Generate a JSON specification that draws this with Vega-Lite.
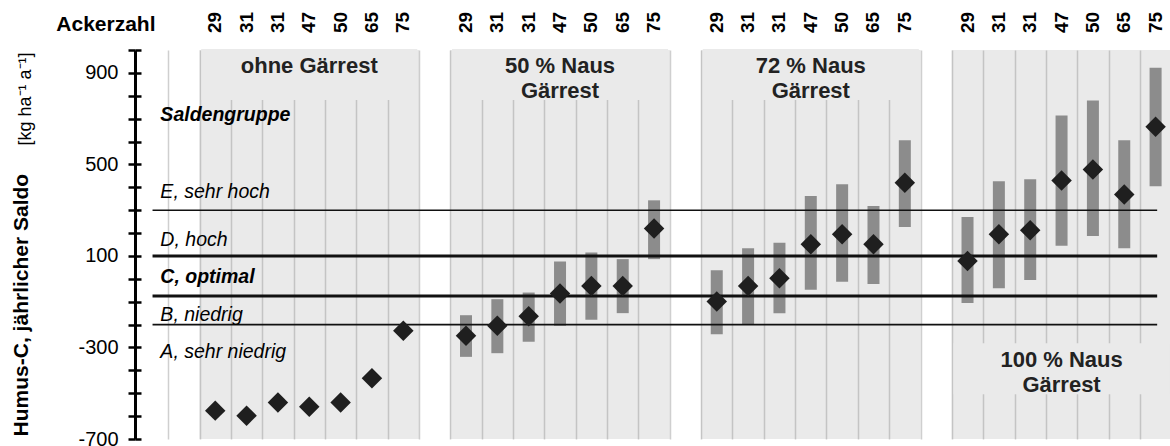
{
  "$schema": "https://vega.github.io/schema/vega-lite/v6.json",
  "width": 1035,
  "height": 389,
  "autosize": {"type": "none"},
  "padding": {"left": 135, "top": 50, "right": 0, "bottom": 7},
  "background": "white",
  "config": {"view": {"stroke": null}, "font": "Liberation Sans"},
  "datasets": {
    "samples": [
      {"group": "ohne Gärrest", "ackerzahl": 29, "idx": 0, "mean": -576, "lo": null, "hi": null},
      {"group": "ohne Gärrest", "ackerzahl": 31, "idx": 1, "mean": -598, "lo": null, "hi": null},
      {"group": "ohne Gärrest", "ackerzahl": 31, "idx": 2, "mean": -540, "lo": null, "hi": null},
      {"group": "ohne Gärrest", "ackerzahl": 47, "idx": 3, "mean": -559, "lo": null, "hi": null},
      {"group": "ohne Gärrest", "ackerzahl": 50, "idx": 4, "mean": -540, "lo": null, "hi": null},
      {"group": "ohne Gärrest", "ackerzahl": 65, "idx": 5, "mean": -434, "lo": null, "hi": null},
      {"group": "ohne Gärrest", "ackerzahl": 75, "idx": 6, "mean": -227, "lo": null, "hi": null},
      {"group": "50 % Naus Gärrest", "ackerzahl": 29, "idx": 8, "mean": -249, "lo": -341, "hi": -159},
      {"group": "50 % Naus Gärrest", "ackerzahl": 31, "idx": 9, "mean": -205, "lo": -325, "hi": -89},
      {"group": "50 % Naus Gärrest", "ackerzahl": 31, "idx": 10, "mean": -164, "lo": -275, "hi": -60},
      {"group": "50 % Naus Gärrest", "ackerzahl": 47, "idx": 11, "mean": -64, "lo": -205, "hi": 76},
      {"group": "50 % Naus Gärrest", "ackerzahl": 50, "idx": 12, "mean": -31, "lo": -179, "hi": 115},
      {"group": "50 % Naus Gärrest", "ackerzahl": 65, "idx": 13, "mean": -31, "lo": -150, "hi": 86},
      {"group": "50 % Naus Gärrest", "ackerzahl": 75, "idx": 14, "mean": 220, "lo": 86, "hi": 343},
      {"group": "72 % Naus Gärrest", "ackerzahl": 29, "idx": 16, "mean": -99, "lo": -242, "hi": 38},
      {"group": "72 % Naus Gärrest", "ackerzahl": 31, "idx": 17, "mean": -31, "lo": -198, "hi": 134},
      {"group": "72 % Naus Gärrest", "ackerzahl": 31, "idx": 18, "mean": 3, "lo": -150, "hi": 158},
      {"group": "72 % Naus Gärrest", "ackerzahl": 47, "idx": 19, "mean": 151, "lo": -48, "hi": 362},
      {"group": "72 % Naus Gärrest", "ackerzahl": 50, "idx": 20, "mean": 195, "lo": -13, "hi": 413},
      {"group": "72 % Naus Gärrest", "ackerzahl": 65, "idx": 21, "mean": 151, "lo": -23, "hi": 318},
      {"group": "72 % Naus Gärrest", "ackerzahl": 75, "idx": 22, "mean": 420, "lo": 227, "hi": 606},
      {"group": "100 % Naus Gärrest", "ackerzahl": 29, "idx": 24, "mean": 78, "lo": -106, "hi": 270},
      {"group": "100 % Naus Gärrest", "ackerzahl": 31, "idx": 25, "mean": 195, "lo": -41, "hi": 426},
      {"group": "100 % Naus Gärrest", "ackerzahl": 31, "idx": 26, "mean": 212, "lo": -5, "hi": 435},
      {"group": "100 % Naus Gärrest", "ackerzahl": 47, "idx": 27, "mean": 430, "lo": 144, "hi": 714},
      {"group": "100 % Naus Gärrest", "ackerzahl": 50, "idx": 28, "mean": 478, "lo": 187, "hi": 779},
      {"group": "100 % Naus Gärrest", "ackerzahl": 65, "idx": 29, "mean": 369, "lo": 134, "hi": 606},
      {"group": "100 % Naus Gärrest", "ackerzahl": 75, "idx": 30, "mean": 665, "lo": 405, "hi": 922}
    ],
    "groups": [
      {"group": "ohne Gärrest", "first": 0, "last": 6, "center": 3, "labelPos": 900, "lines": ["ohne Gärrest"]},
      {"group": "50 % Naus Gärrest", "first": 8, "last": 14, "center": 11, "labelPos": 900, "lines": ["50 % Naus", "Gärrest"]},
      {"group": "72 % Naus Gärrest", "first": 16, "last": 22, "center": 19, "labelPos": 900, "lines": ["72 % Naus", "Gärrest"]},
      {"group": "100 % Naus Gärrest", "first": 24, "last": 30, "center": 27, "labelPos": -386, "lines": ["100 % Naus", "Gärrest"]}
    ]
  },
  "resolve": {"axis": {"x": "independent", "y": "independent"}},
  "layer": [
    {
      "data": {"name": "groups"},
      "mark": {"type": "rect", "color": "#a0a0a0", "opacity": 0.22, "xOffset": -15.8, "x2Offset": 15.8},
      "encoding": {
        "x": {
          "field": "first", "type": "quantitative",
          "scale": {"domain": [-2.4, 30.3], "zero": false, "nice": false},
          "axis": {
            "orient": "bottom",
            "values": [-1.5,-0.5,0.5,1.5,2.5,3.5,4.5,5.5,6.5,7.5,8.5,9.5,10.5,11.5,12.5,13.5,14.5,15.5,16.5,17.5,18.5,19.5,20.5,21.5,22.5,23.5,24.5,25.5,26.5,27.5,28.5,29.5],
            "grid": true, "gridColor": "#cfcfcf", "gridWidth": 1.5,
            "labels": false, "ticks": false, "domain": false, "title": null
          }
        },
        "x2": {"field": "last"},
        "y": {"datum": -700, "type": "quantitative", "scale": {"domain": [-700, 1000], "zero": false, "nice": false}, "axis": null},
        "y2": {"datum": 1000}
      }
    },
    {
      "data": {"name": "groups"},
      "mark": {"type": "rect", "color": "#eaeaea", "opacity": 1, "xOffset": -14, "x2Offset": 14, "yOffset": -24, "y2Offset": 27},
      "encoding": {
        "x": {"field": "first", "type": "quantitative", "axis": null},
        "x2": {"field": "last"},
        "y": {"field": "labelPos", "type": "quantitative", "axis": null},
        "y2": {"field": "labelPos"}
      }
    },
    {
      "data": {"name": "samples"},
      "mark": {"type": "bar", "size": 12, "color": "#8c8c8c"},
      "encoding": {
        "x": {
          "field": "idx", "type": "quantitative",
          "axis": {
            "orient": "top",
            "values": [0],
            "labels": false, "ticks": false, "domain": false, "grid": false,
            "title": "Ackerzahl", "titleFontSize": 21, "titleFontWeight": "bold", "titleColor": "black",
            "titleAngle": 0, "titleX": 20, "titleY": -20, "titleAlign": "right", "titleBaseline": "alphabetic"
          }
        },
        "y": {
          "field": "lo", "type": "quantitative",
          "axis": {
            "orient": "left",
            "values": [-700,-600,-500,-400,-300,-200,-100,0,100,200,300,400,500,600,700,800,900,1000],
            "labels": false, "tickSize": -6, "tickWidth": 2.5, "tickColor": "black",
            "domain": false, "grid": false,
            "title": "[kg ha⁻¹ a⁻¹]", "titleFontSize": 18, "titleFontWeight": "normal", "titleColor": "black",
            "titleAngle": -90, "titleX": -104.5, "titleY": 48.5, "titleAlign": "center", "titleBaseline": "alphabetic"
          }
        },
        "y2": {"field": "hi"}
      }
    },
    {
      "data": {"values": [{"boundary": 300}, {"boundary": -200}]},
      "mark": {"type": "rule", "color": "#111111", "strokeWidth": 1.6},
      "encoding": {
        "x": {"datum": -2, "type": "quantitative", "axis": null},
        "x2": {"datum": 30.05},
        "y": {"field": "boundary", "type": "quantitative", "axis": null}
      }
    },
    {
      "data": {"values": [{"boundary": 100}, {"boundary": -75}]},
      "mark": {"type": "rule", "color": "#111111", "strokeWidth": 3},
      "encoding": {
        "x": {"datum": -2, "type": "quantitative", "axis": null},
        "x2": {"datum": 30.05},
        "y": {"field": "boundary", "type": "quantitative", "axis": null}
      }
    },
    {
      "data": {"name": "samples"},
      "mark": {"type": "point", "shape": "diamond", "filled": true, "size": 420, "color": "#1f1f1f", "opacity": 1},
      "encoding": {
        "x": {"field": "idx", "type": "quantitative", "axis": null},
        "y": {
          "field": "mean", "type": "quantitative",
          "axis": {
            "orient": "left",
            "values": [-700,-600,-500,-400,-300,-200,-100,0,100,200,300,400,500,600,700,800,900,1000],
            "labelExpr": "(datum.value + 700) % 400 == 0 ? '' + datum.value : ''",
            "labelFontSize": 20, "labelColor": "black", "labelPadding": 10,
            "labelFlush": false, "labelOverlap": false,
            "tickSize": 7, "tickWidth": 2.5, "tickColor": "black",
            "domainColor": "black", "domainWidth": 3, "grid": false,
            "title": "Humus-C, jährlicher Saldo", "titleFontSize": 21, "titleFontWeight": "bold", "titleColor": "black",
            "titleAngle": -90, "titleX": -107.5, "titleY": 254.6, "titleAlign": "center", "titleBaseline": "alphabetic"
          }
        }
      }
    },
    {
      "data": {"name": "samples"},
      "mark": {"type": "text", "angle": 270, "align": "left", "baseline": "middle", "fontSize": 19, "fontWeight": "bold", "color": "black", "yOffset": -17},
      "encoding": {
        "x": {"field": "idx", "type": "quantitative", "axis": null},
        "y": {"datum": 1000, "type": "quantitative", "axis": null},
        "text": {"field": "ackerzahl", "type": "nominal"}
      }
    },
    {
      "data": {"values": [
        {"label": "E, sehr hoch", "pos": 353},
        {"label": "D, hoch", "pos": 143},
        {"label": "B, niedrig", "pos": -184},
        {"label": "A, sehr niedrig", "pos": -346}
      ]},
      "mark": {"type": "text", "align": "left", "baseline": "alphabetic", "fontSize": 19.5, "fontStyle": "italic", "color": "black"},
      "encoding": {
        "x": {"datum": -1.75, "type": "quantitative", "axis": null},
        "y": {"field": "pos", "type": "quantitative", "axis": null},
        "text": {"field": "label"}
      }
    },
    {
      "data": {"values": [
        {"label": "Saldengruppe", "pos": 690},
        {"label": "C, optimal", "pos": -18}
      ]},
      "mark": {"type": "text", "align": "left", "baseline": "alphabetic", "fontSize": 19.5, "fontStyle": "italic", "fontWeight": "bold", "color": "black"},
      "encoding": {
        "x": {"datum": -1.75, "type": "quantitative", "axis": null},
        "y": {"field": "pos", "type": "quantitative", "axis": null},
        "text": {"field": "label"}
      }
    },
    {
      "data": {"name": "groups"},
      "mark": {"type": "text", "align": "center", "baseline": "alphabetic", "fontSize": 22, "fontWeight": "bold", "color": "#222222", "lineHeight": 25},
      "encoding": {
        "x": {"field": "center", "type": "quantitative", "axis": null},
        "y": {"field": "labelPos", "type": "quantitative", "axis": null},
        "text": {"field": "lines"}
      }
    }
  ]
}
